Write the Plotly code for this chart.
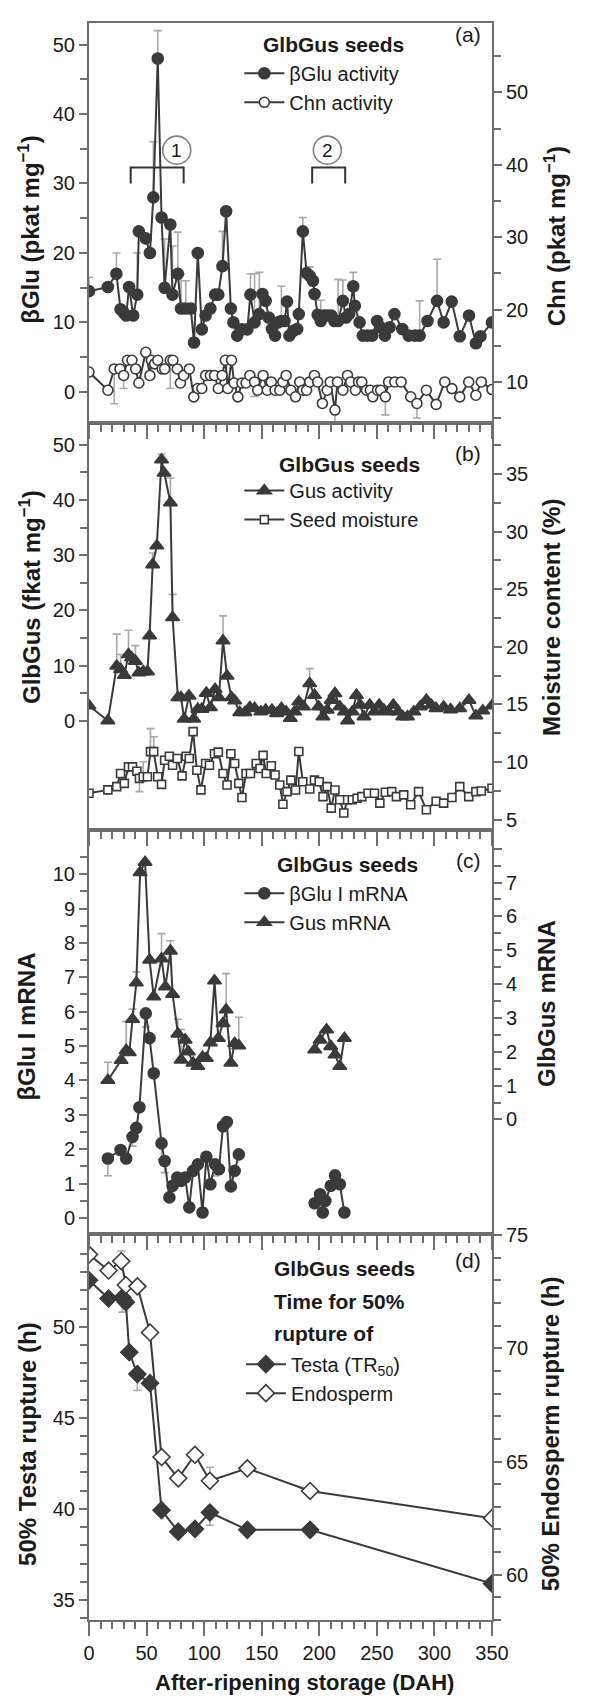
import plotly.graph_objects as go

FONT = "Liberation Sans, Arial, sans-serif"
INK = "#3a3a3a"
AXIS = "#6e6e6e"
ERR = "#a9a9a9"

# ---------- (a) enzyme activities ----------
a_bglu_day = [0, 16.4, 23.8, 27.4, 30.1, 32.3, 34.8, 38.4, 41.9, 43.3, 49.3, 52.9, 55.9, 59.7,
              63.0, 65.7, 70.6, 72.5, 77.2, 79.9, 84.0, 88.4, 91.2, 94.5, 98.0, 101.3, 105.4,
              109.5, 112.3, 115.9, 119.1, 123.2, 125.4, 128.7, 132.8, 137.5, 140.2, 143.8, 147.9,
              150.6, 153.4, 156.1, 158.9, 161.6, 164.3, 167.1, 169.8, 172.0, 174.0, 177.5, 180.8,
              182.2, 185.7, 189.0, 191.7, 194.5, 195.9, 198.6, 201.3, 204.1, 206.8, 210.4, 213.1,
              216.4, 220.5, 223.2, 226.0, 229.5, 230.9, 235.0, 237.8, 241.9, 246.0, 250.2, 252.9,
              257.0, 261.1, 265.3, 272.1, 277.6, 283.1, 287.2, 294.0, 302.3, 308, 315, 322, 330,
              336, 340, 350]
a_bglu = [14.5, 15.1, 17, 11.9, 11.4, 11, 15.1, 11, 14, 23.1, 22.1, 20, 28, 48,
          25.1, 15, 24.1, 14, 17, 12, 12, 12, 7.1, 20, 9, 11,
          12, 14, 14, 18.1, 26, 12, 10, 8.1, 9, 9, 14, 10, 11.2,
          14.1, 13.1, 10.7, 9.05, 8.1, 10, 10.2, 10.2, 13, 8.1, 8.8, 9.05,
          11.2, 23.1, 17.1, 16.7, 16, 14.1, 11.1, 10.2, 11, 11, 11, 10.2,
          10.2, 13.1, 10.7, 11.2, 15.2, 12.4, 10, 8.1, 8.1, 8.1, 10.2, 9.3,
          8.1, 9.3, 11.2, 9.05, 8.1, 8.1, 8.1, 10.2, 13.1, 10, 13, 8, 11,
          7, 8, 10]
a_bglu_sd_day = [0, 23.8, 41.9, 55.9, 59.7, 65.7, 72.5, 77.2, 79.9, 84.0, 115.9, 140.2,
                 143.8, 147.9, 167.1, 185.7, 191.7, 201.3, 216.4, 220.5, 229.5, 287.2, 302.3]
a_bglu_sd = [2, 3, 6, 8, 4, 7, 7, 6, 5, 4, 5, 3, 7, 6, 5, 2, 1.3, 3, 6, 3, 2, 5, 6]

a_chn_day = [0, 16.4, 21.9, 26.9, 30.1, 33.4, 37.3, 40.5, 43.3, 49.3, 52.9, 54.2, 57, 59.7,
             63.5, 65.7, 70.6, 72.9, 76.7, 79.4, 82.2, 87.1, 91, 94.5, 98, 101.3, 105.4, 109,
             112.3, 115.6, 118.4, 120.5, 123.8, 126, 129.3, 132.8, 136.4, 139.7, 143.8, 146.5,
             151.2, 154.8, 158.3, 161.6, 165.7, 168.4, 171.2, 175.3, 179.4, 183, 185.7, 189,
             191.7, 195.8, 198.6, 202.7, 206.8, 209.5, 213.6, 215.8, 220.5, 224.5, 227.3, 231.4,
             234.1, 236.9, 241, 244.3, 246.5, 250.6, 253.3, 257.4, 260.2, 265.6, 271.1, 279.4,
             284.8, 293, 301.5, 309, 315.2, 322, 329.8, 336, 340.7, 350]
a_chn = [11.37, 8.86, 11.8, 11.8, 10.9, 13.0, 13.0, 11.8, 9.86, 14.1, 10.9, 13.0, 12.5, 13.0,
         11.8, 11.8, 13.0, 13.0, 11.8, 9.86, 10.9, 11.8, 7.94, 9.1, 9.1, 10.9, 10.9, 10.9,
         9.1, 10.9, 13.0, 9.1, 13.0, 9.86, 7.94, 9.86, 9.86, 10.9, 10.0, 8.86,
         10.9, 8.86, 10.0, 8.86, 8.86, 10.0, 10.9, 8.86, 7.95, 10.0, 8.86, 8.86,
         10.0, 10.9, 10.0, 7.03, 8.86, 10.0, 6.12, 10.0, 8.86, 10.9, 10.0, 8.86,
         10.0, 10.0, 8.86, 8.86, 7.95, 8.86, 8.86, 7.95, 10.0, 10.0, 10.0, 7.95,
         7.03, 8.86, 6.9, 10, 9.08, 7.94, 10, 8.17, 10, 8.95]
a_chn_sd_day = [21.9, 30.1, 70.6, 143.8, 213.6, 257.4, 284.8]
a_chn_sd = [4.8, 1.8, 3.9, 2.0, 1.8, 2.5, 2.0]

# ---------- (b) Gus activity and seed moisture ----------
b_gus_day = [0, 16.4, 24.1, 27.4, 30.7, 34.3, 37.0, 40.3, 43.3, 47.1, 50.7, 52.6, 55.3, 58.9,
             63.0, 65.2, 70.7, 72.6, 77.2, 79.9, 82.7, 86.8, 90.9, 94.5, 98, 101.9, 105.4,
             109.5, 112.8, 116.4, 119.9, 123.8, 126.5, 130.9, 135.5, 139.7, 143.8, 149.3,
             153.4, 158.9, 163, 167.1, 171.2, 174.8, 178.6, 182.2, 186.3, 191.7, 195.8, 199.4,
             203.2, 206.8, 210.4, 213.6, 217.8, 221.9, 224.6, 228.7, 232.3, 235.6, 238.8, 243.8,
             247.9, 252, 256.1, 260.2, 264.3, 268.4, 272.5, 276.6, 282.1, 287.6, 293, 297.2,
             301.3, 308, 314, 322, 330, 336, 342, 350]
b_gus = [2.7, 0, 9.9, 9.3, 8.25, 12.0, 11.4, 10.8, 8.7, 8.9, 8.9, 15.4, 28.3, 31.7,
         47.3, 44.9, 39.5, 18.7, 4.2, 4.2, 0.3, 4.5, 0.3, 2.1, 2.1, 5.0, 2.4,
         5.7, 4.2, 14.5, 8.1, 4.2, 3.6, 1.5, 1.5, 2.4, 2.23, 1.63,
         1.93, 1.93, 1.33, 2.23, 1.63, 0.43, 1.63, 3.43, 2.53, 6.74, 4.63, 2.53,
         0.73, 1.93, 3.73, 4.94, 2.53, 1.63, 0, 1.63, 4.63, 2.83, 0.73, 2.83,
         1.63, 2.83, 1.93, 1.63, 2.83, 1.63, 0.73, 0.73, 1.63, 2.53, 3.73, 2.83,
         2.23, 2.5, 2.0, 2.2, 3.7, 0.9, 1.8, 2.7]
b_gus_sd_day = [24.1, 27.4, 34.3, 40.3, 55.3, 63.0, 70.7, 72.6, 116.4, 191.7]
b_gus_sd = [5.8, 2.7, 4.4, 2.8, 2.1, 1.0, 4.5, 4.2, 4.5, 2.7]

b_moist_day = [0, 16.4, 24.1, 27.4, 30.7, 34.3, 37.8, 41.6, 43.8, 47.1, 50.7, 53.4, 56.2, 59.7,
               63, 65.7, 69.8, 72.6, 76.7, 80.8, 84.4, 87.1, 90.4, 93.7, 97.2, 101.3, 104.6,
               109, 112.3, 116.4, 119.9, 123.2, 126.5, 130.1, 132.8, 136.4, 140.2, 145.2,
               148.5, 151.2, 153.9, 158.3, 161.6, 165.7, 168.4, 172, 175.3, 179.4, 182.2, 185.7,
               191.7, 195.8, 199.9, 203.2, 206.8, 210.4, 213.6, 217.8, 221.3, 224.6, 228.7,
               232.8, 237, 242.4, 247.9, 252.6, 257.4, 262.9, 267, 273.3, 279.4, 286.2, 293,
               301.5, 308, 315.2, 322, 329.8, 336, 340.7, 350]
b_moist = [7.29, 7.58, 7.86, 9.0, 8.15, 9.58, 9.58, 9.2, 8.58, 8.72, 8.72, 10.9, 10.9, 8.72,
           8.06, 10.15, 10.5, 9.72, 10.3, 8.8, 10.5, 10.3, 12.64, 9.29, 7.58, 9.87, 9.72,
           10.72, 10.86, 9.0, 8.0, 10.72, 9.87, 8.15, 6.92, 9.0, 9.0, 9.87,
           9.44, 10.58, 9.0, 9.67, 8.87, 8.0, 6.34, 7.43, 8.43, 7.57, 10.92, 8.29,
           7.66, 8.43, 8.29, 7.0, 7.86, 6.0, 7.57, 6.72, 5.57, 6.72, 6.72,
           6.86, 7.0, 7.29, 7.29, 6.43, 7.37, 7.43, 7.0, 7.15, 6.29, 7.43, 5.86,
           6.6, 6.43, 6.92, 7.86, 7.0, 7.43, 7.49, 7.72]
b_moist_sd_up_day = [47.1, 53.4, 56.2]
b_moist_sd_up = [1.3, 2.0, 1.3]
b_moist_sd_dn_day = [43.8]
b_moist_sd_dn = [1.15]

# ---------- (c) transcripts (None = no samples) ----------
c_bglu_day = [16.4, 27.4, 32.3, 37.8, 41.1, 43.8, 49.3, 52.6, 56.2, 63, 65.7, 69.8, 72.6, 76.7,
              80, 83.5, 87.1, 90.4, 94.5, 98.6, 101.9, 105.4, 109.5, 112.8, 116.4, 119.7,
              123.2, 126.5, 130.1, None, 196, 200.7, 203, 205.3, 210, 213.7, 217.8, 221.8]
c_bglu = [1.73, 1.98, 1.73, 2.36, 2.62, 3.22, 5.95, 5.23, 4.21, 2.17, 1.66, 0.6, 0.94, 1.18,
          1.08, 1.18, 0.31, 1.37, 1.56, 0.16, 1.78, 0.98, 1.56, 1.42, 2.67, 2.79,
          0.92, 1.37, 1.85, None, 0.43, 0.69, 0.16, 0.5, 0.94, 1.24, 0.98, 0.16]
c_bglu_sd_day = [16.4, 37.8, 49.3, 63, 65.7, 109.5]
c_bglu_sd = [0.5, 0.27, 0.4, 0.47, 0.34, 0.34]

c_gus_day = [16.4, 27.9, 32.3, 35, 37.8, 41.1, 44.4, 48.7, 52.6, 56.2, 63, 66.3, 70.7, 72.6,
             77.2, 80, 83.5, 86.3, 90.4, 94.5, 98.6, 101.9, 105.4, 109, 112.3, 116.4, 119.1,
             123.2, 126.5, 130.1, None, 196, 200.7, 206.3, 210, 213.7, 217.8, 221.8]
c_gus = [1.16, 1.75, 2.04, 1.98, 2.96, 4.04, 7.3, 7.6, 4.71, 3.63, 4.75, 3.92, 4.98, 3.7,
         2.53, 1.76, 2.35, 2.0, 1.67, 1.57, 1.84, 1.81, 2.27, 4.1, 2.4, 2.84, 3.24,
         1.67, 2.25, 2.18, None, 2.06, 2.35, 2.65, 2.16, 1.91, 1.57, 2.4]
c_gus_sd_day = [16.4, 32.3, 37.8, 41.1, 63, 70.7, 77.2, 80, 119.1, 130.1]
c_gus_sd = [0.53, 0.85, 0.3, 0.32, 0.74, 0.3, 0.43, 0.9, 1.07, 0.84]

# ---------- (d) time to 50% rupture ----------
d_testa_day = [0, 17, 29, 32, 35, 42, 53, 63, 77.5, 92, 105, 137.5, 192, 350]
d_testa = [52.55, 51.55, 51.6, 51.35, 48.6, 47.4, 46.9, 39.93, 38.75, 38.9, 39.8, 38.85,
           38.85, 35.9]
d_testa_sd_day = [29, 42, 105]
d_testa_sd = [0.8, 0.9, 0.7]
d_endo_day = [0, 17, 28, 32, 42, 53, 63, 77.5, 92, 105, 137.5, 192, 350]
d_endo = [74.15, 73.44, 73.85, 72.8, 72.74, 70.7, 65.2, 64.26, 65.3, 64.15, 64.7, 63.7, 62.5]
d_endo_sd_day = [28, 105]
d_endo_sd = [0.45, 0.6]


def sd_list(days, sd_days, sd):
    m = dict(zip(sd_days, sd))
    return [None if d is None else m.get(d, 0) for d in days]


def zeros(days):
    return [None if d is None else 0 for d in days]


def series(x, y, xa, ya, name, legend, symbol, size, filled, up=None, dn=None):
    face = INK if filled else "white"
    tr = go.Scatter(
        x=x, y=y, xaxis=xa, yaxis=ya, name=name, legend=legend, legendgroup=name,
        mode="lines+markers", connectgaps=False,
        line=dict(color=INK, width=2),
        marker=dict(symbol=symbol, size=size, color=face, line=dict(color=INK, width=1.6)),
    )
    if up is not None or dn is not None:
        tr.error_y = dict(type="data", symmetric=False,
                          array=up if up is not None else zeros(x),
                          arrayminus=dn if dn is not None else zeros(x),
                          color=ERR, thickness=1.6, width=4)
    return tr


fig = go.Figure()
fig.add_trace(series(a_bglu_day, a_bglu, "x2", "y", "βGlu activity", "legend", "circle", 11, True,
                     up=sd_list(a_bglu_day, a_bglu_sd_day, a_bglu_sd)))
fig.add_trace(series(a_chn_day, a_chn, "x2", "y2", "Chn activity", "legend", "circle", 10, False,
                     dn=sd_list(a_chn_day, a_chn_sd_day, a_chn_sd)))
fig.add_trace(series(b_gus_day, b_gus, "x3", "y3", "Gus activity", "legend2", "triangle-up", 12, True,
                     up=sd_list(b_gus_day, b_gus_sd_day, b_gus_sd)))
fig.add_trace(series(b_moist_day, b_moist, "x3", "y4", "Seed moisture", "legend2", "square", 8, False,
                     up=sd_list(b_moist_day, b_moist_sd_up_day, b_moist_sd_up),
                     dn=sd_list(b_moist_day, b_moist_sd_dn_day, b_moist_sd_dn)))
fig.add_trace(series(c_bglu_day, c_bglu, "x4", "y5", "βGlu I mRNA", "legend3", "circle", 11, True,
                     dn=sd_list(c_bglu_day, c_bglu_sd_day, c_bglu_sd)))
fig.add_trace(series(c_gus_day, c_gus, "x4", "y6", "Gus mRNA", "legend3", "triangle-up", 12, True,
                     up=sd_list(c_gus_day, c_gus_sd_day, c_gus_sd)))
fig.add_trace(series(d_testa_day, d_testa, "x", "y7", "Testa (TR<sub>50</sub>)", "legend4", "diamond", 13, True,
                     dn=sd_list(d_testa_day, d_testa_sd_day, d_testa_sd)))
fig.add_trace(series(d_endo_day, d_endo, "x", "y8", "Endosperm", "legend4", "diamond", 13, False,
                     up=sd_list(d_endo_day, d_endo_sd_day, d_endo_sd)))

tickfont = dict(family=FONT, size=20, color="#1a1a1a")


def xax(anchor, labels):
    return dict(anchor=anchor, domain=[0, 1], range=[0, 350], tickmode="array",
                tickvals=list(range(0, 351, 50)), showticklabels=labels, ticks="outside",
                ticklen=14, tickwidth=2, tickcolor=AXIS, showline=True, linecolor=AXIS,
                linewidth=2, mirror=True, showgrid=False, zeroline=False, tickfont=tickfont,
                minor=dict(tickmode="array", tickvals=[v for v in range(10, 350, 10) if v % 50],
                           ticks="outside", ticklen=7, tickwidth=2, tickcolor=AXIS))


def yax(dom, rng, vals, minor, side="left", overlay=None, anchor=None, text=None):
    d = dict(range=rng, tickmode="array", tickvals=vals, ticks="outside", ticklen=8,
             tickwidth=2, tickcolor=AXIS, showline=True, linecolor=AXIS, linewidth=2,
             showgrid=False, zeroline=False, tickfont=tickfont, side=side,
             minor=dict(tickmode="array", tickvals=minor, ticks="outside", ticklen=7,
                        tickwidth=2, tickcolor=AXIS))
    if text is not None:
        d["ticktext"] = text
    if overlay:
        d["overlaying"] = overlay
        d["anchor"] = anchor
    else:
        d["domain"] = dom
        d["anchor"] = anchor
    return d


def frange(a, b, s):
    out, v = [], a
    while v <= b + 1e-9:
        out.append(round(v, 3))
        v += s
    return out


dom_a = [0.7493, 1.0]
dom_b = [0.4944, 0.7493]
dom_c = [0.2418, 0.4944]
dom_d = [0.0, 0.2418]

# the page body keeps its default 8px margin, so the figure is 8px smaller each way
fig.update_layout(
    width=588, height=1689,
    margin=dict(l=81, r=104, t=5, b=77),
    paper_bgcolor="white", plot_bgcolor="white",
    font=dict(family=FONT, size=20, color="#1a1a1a"),
    xaxis=xax("y7", True),
    xaxis2=dict(xax("y", False), matches="x"),
    xaxis3=dict(xax("y3", False), matches="x"),
    xaxis4=dict(xax("y5", False), matches="x"),
    yaxis=yax(dom_a, [-4.53, 53.1], frange(0, 50, 10), frange(5, 45, 10), anchor="x2"),
    yaxis2=yax(None, [4.28, 59.6], frange(10, 50, 10), frange(5, 55, 10), side="right",
               overlay="y", anchor="x2"),
    yaxis3=yax(dom_b, [-19.9, 53.9], frange(0, 50, 10), frange(5, 45, 10), anchor="x3"),
    yaxis4=yax(None, [4.06, 39.4], frange(5, 35, 5), frange(7.5, 37.5, 5), side="right",
               overlay="y3", anchor="x3"),
    yaxis5=yax(dom_c, [-0.46, 11.27], frange(0, 10, 1), frange(0.5, 11, 1), anchor="x4"),
    yaxis6=yax(None, [-3.38, 8.54], frange(0, 8, 1), frange(0.5, 7.5, 1), side="right",
               overlay="y5", anchor="x4", text=[str(v) for v in range(8)] + [""]),
    yaxis7=yax(dom_d, [33.9, 55.1], frange(35, 50, 5), [v for v in range(34, 56) if v % 5],
               anchor="x"),
    yaxis8=yax(None, [58.0, 75.06], frange(60, 75, 5), [v for v in range(58, 75) if v % 5],
               side="right", overlay="y7", anchor="x"),
    showlegend=True,
)

leg = dict(bgcolor="rgba(0,0,0,0)", font=dict(family=FONT, size=20, color="#1a1a1a"),
           xanchor="left", yanchor="top", itemwidth=40, tracegroupgap=5, traceorder="normal")
fig.update_layout(
    legend=dict(leg, x=0.373, y=0.9807),
    legend2=dict(leg, x=0.373, y=0.7194),
    legend3=dict(leg, x=0.373, y=0.4673),
    legend4=dict(leg, x=0.377, y=0.1724),
)

# brackets with circled numbers in panel (a)
for x0, x1, lab, xc in [(36.2, 82.2, "1", 76.2), (193.8, 222.5, "2", 207)]:
    fig.add_shape(type="path", xref="x2", yref="y",
                  path=f"M{x0},30 L{x0},32.3 L{x1},32.3 L{x1},30",
                  line=dict(color="#333333", width=2))
    fig.add_shape(type="circle", xref="x2", yref="y", xsizemode="pixel", ysizemode="pixel",
                  xanchor=xc, yanchor=34.8, x0=-14, x1=14, y0=-14, y1=14,
                  line=dict(color="#808080", width=1.6), fillcolor="white")
    fig.add_annotation(x=xc, y=34.8, xref="x2", yref="y", text=lab, showarrow=False,
                       font=dict(family=FONT, size=19, color="#1a1a1a"))


def note(x, y, text, size=21, bold=True, xanchor="left", angle=0):
    fig.add_annotation(x=x, y=y, xref="paper", yref="paper", text=f"<b>{text}</b>" if bold else text,
                       showarrow=False, xanchor=xanchor, yanchor="middle", textangle=angle,
                       font=dict(family=FONT, size=size, color="#1a1a1a"))


note(0.4267, 0.9868, "GlbGus seeds")
note(0.4667, 0.7233, "GlbGus seeds")
note(0.4622, 0.4732, "GlbGus seeds")
note(0.4533, 0.2204, "GlbGus seeds")
note(0.4533, 0.1993, "Time for 50%")
note(0.4533, 0.1795, "rupture of")

for y, lab in [(0.993, "(a)"), (0.7306, "(b)"), (0.4757, "(c)"), (0.2252, "(d)")]:
    note(0.978, y, lab, size=21, bold=False, xanchor="right")

left_titles = [(-0.149, 0.8705, "βGlu (pkat mg<sup>−1</sup>)"),
               (-0.145, 0.6403, "GlbGus (fkat mg<sup>−1</sup>)"),
               (-0.156, 0.3717, "βGlu I mRNA"),
               (-0.154, 0.1102, "50% Testa rupture (h)")]
right_titles = [(1.155, 0.8667, "Chn (pkat mg<sup>−1</sup>)"),
                (1.148, 0.6279, "Moisture content (%)"),
                (1.135, 0.3860, "GlbGus mRNA"),
                (1.147, 0.1165, "50% Endosperm rupture (h)")]
for x, y, t in left_titles + right_titles:
    note(x, y, t, size=24, xanchor="center", angle=-90)

note(0.534, -0.0392, "After-ripening storage (DAH)", size=22, xanchor="center")

fig.write_html("out.html")
